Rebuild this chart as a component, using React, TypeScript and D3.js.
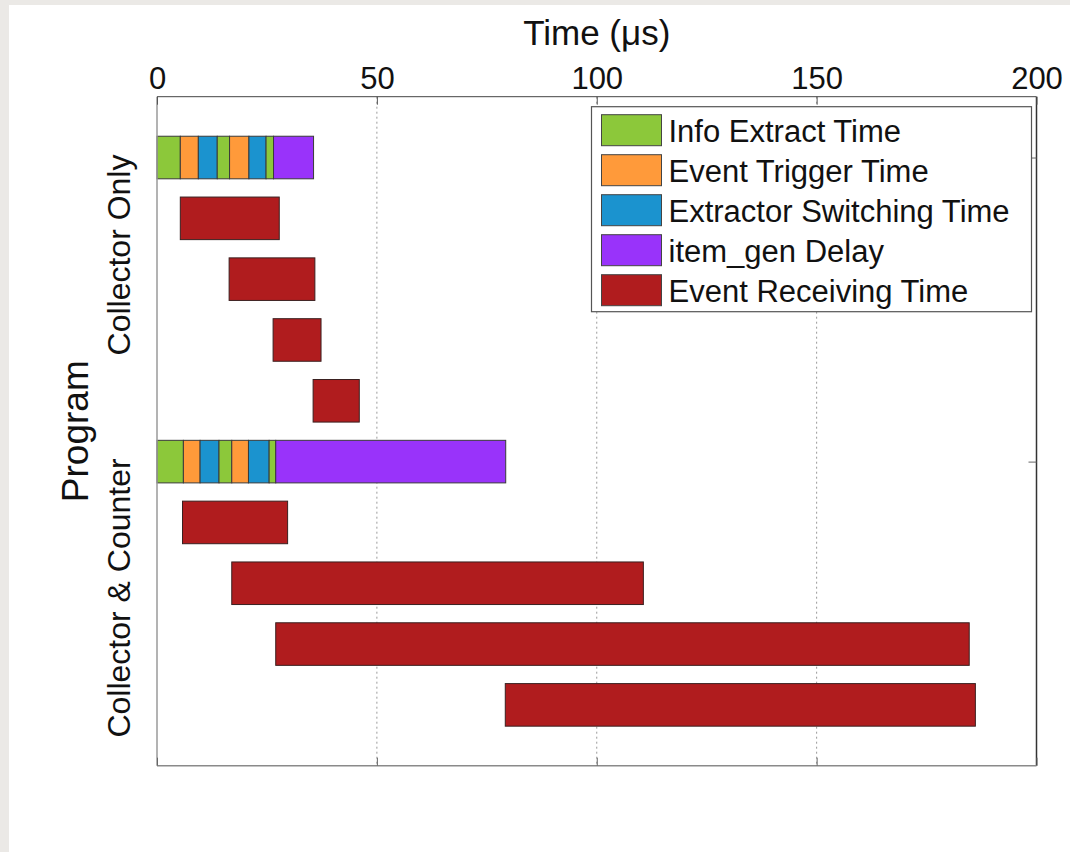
import React, { useEffect, useRef } from "react";
import * as d3 from "d3";

const seriesNames = [
  "Info Extract Time",
  "Event Trigger Time",
  "Extractor Switching Time",
  "item_gen Delay",
  "Event Receiving Time",
];
const seriesColors = ["#8cc83a", "#ff9a3a", "#1b93cf", "#9933fa", "#b01c1e"];
const programs = ["Collector Only", "Collector & Counter"];
// series index of each stacked segment, left to right
const stackOrder = [0, 1, 2, 0, 1, 2, 0, 3];
const collectorOnlySegments = [5.3, 4.1, 4.3, 2.8, 4.4, 3.9, 1.7, 9.1];
const collectorCounterSegments = [6.0, 3.8, 4.3, 2.9, 3.8, 4.7, 1.5, 52.3];
const collectorOnlyReceiving = [
  [5.3, 27.8],
  [16.4, 35.9],
  [26.4, 37.3],
  [35.5, 46.0],
];
const collectorCounterReceiving = [
  [5.8, 29.7],
  [17.0, 110.6],
  [27.0, 184.7],
  [79.2, 186.1],
];
const xTicks = [0, 50, 100, 150, 200];
const programRows = [1, 6];

export default function App() {
  const ref = useRef<SVGSVGElement | null>(null);

  useEffect(() => {
    const svg = d3.select(ref.current);
    svg.selectAll("*").remove();
    const W = 1070, H = 852;
    const left = 157, right = 1036.5, top = 96.7, bottom = 765.7;
    const x = d3.scaleLinear().domain([0, 200]).range([left, right]);
    const y = d3.scaleLinear().domain([0, 11]).range([top, bottom]);
    const barH = y(0.7) - y(0);
    const font = "'Liberation Sans', Arial, sans-serif";

    svg.append("rect").attr("width", W).attr("height", H).attr("fill", "#ebe9e6");
    svg.append("rect").attr("x", 9).attr("y", 5).attr("width", W - 9).attr("height", H - 5).attr("fill", "#ffffff");

    // grid
    svg.append("g")
      .selectAll("line")
      .data(xTicks.slice(1, -1))
      .join("line")
      .attr("x1", (d) => x(d)).attr("x2", (d) => x(d))
      .attr("y1", top).attr("y2", bottom)
      .attr("stroke", "#9a9a9a").attr("stroke-width", 1)
      .attr("stroke-dasharray", "2,3");

    // stacked bars
    const stacks = [collectorOnlySegments, collectorCounterSegments];
    const receiving = [collectorOnlyReceiving, collectorCounterReceiving];
    stacks.forEach((segs, p) => {
      const cum = d3.cumsum(segs);
      const row = programRows[p];
      svg.append("g")
        .selectAll("rect")
        .data(segs.map((v, i) => ({ s: stackOrder[i], x0: cum[i] - v, x1: cum[i] })))
        .join("rect")
        .attr("x", (d) => x(d.x0))
        .attr("width", (d) => x(d.x1) - x(d.x0))
        .attr("y", y(row) - barH / 2)
        .attr("height", barH)
        .attr("fill", (d) => seriesColors[d.s])
        .attr("stroke", "#3a3a3a").attr("stroke-width", 1);
      svg.append("g")
        .selectAll("rect")
        .data(receiving[p])
        .join("rect")
        .attr("x", (d) => x(d[0]))
        .attr("width", (d) => x(d[1]) - x(d[0]))
        .attr("y", (d, i) => y(row + 1 + i) - barH / 2)
        .attr("height", barH)
        .attr("fill", seriesColors[4])
        .attr("stroke", "#3a2020").attr("stroke-width", 1);
    });

    // box
    svg.append("line").attr("x1", left).attr("x2", right).attr("y1", top).attr("y2", top).attr("stroke", "#444");
    svg.append("line").attr("x1", right).attr("x2", right).attr("y1", top).attr("y2", bottom).attr("stroke", "#333").attr("stroke-width", 1.5);
    svg.append("line").attr("x1", left).attr("x2", right).attr("y1", bottom).attr("y2", bottom).attr("stroke", "#8a8a8a").attr("stroke-width", 1.5);
    svg.append("line").attr("x1", left).attr("x2", left).attr("y1", top).attr("y2", bottom).attr("stroke", "#9a9a9a").attr("stroke-width", 1.5);

    // top axis
    const topAxis = d3.axisTop(x).tickValues(xTicks).tickSize(-8).tickPadding(8).tickFormat(d3.format("d"));
    const gTop = svg.append("g").attr("transform", `translate(0,${top})`).call(topAxis);
    gTop.select(".domain").remove();
    gTop.selectAll("line").attr("stroke", "#555");
    gTop.selectAll("text").attr("font-family", font).attr("font-size", 31).attr("fill", "#111");

    // bottom axis ticks
    const botAxis = d3.axisBottom(x).tickValues(xTicks).tickSize(-8).tickFormat(() => "");
    const gBot = svg.append("g").attr("transform", `translate(0,${bottom})`).call(botAxis);
    gBot.select(".domain").remove();
    gBot.selectAll("line").attr("stroke", "#666");

    // right axis ticks
    const rAxis = d3.axisRight(y).tickValues(programRows).tickSize(-8).tickFormat(() => "");
    const gR = svg.append("g").attr("transform", `translate(${right},0)`).call(rAxis);
    gR.select(".domain").remove();
    gR.selectAll("line").attr("stroke", "#666");

    // title
    svg.append("text").attr("x", (left + right) / 2).attr("y", 45)
      .attr("text-anchor", "middle").attr("font-family", font).attr("font-size", 35).attr("fill", "#111")
      .text("Time (μs)");

    // y labels
    const yLabelCenters = [255, 598];
    programs.forEach((name, i) => {
      svg.append("text")
        .attr("transform", `translate(130,${yLabelCenters[i]}) rotate(-90)`)
        .attr("text-anchor", "middle").attr("font-family", font).attr("font-size", 32).attr("fill", "#111")
        .text(name);
    });
    svg.append("text")
      .attr("transform", `translate(88,${(top + bottom) / 2}) rotate(-90)`)
      .attr("text-anchor", "middle").attr("font-family", font).attr("font-size", 37).attr("fill", "#111")
      .text("Program");

    // legend
    const lx = 591.5, ly = 106.7, lw = 440, lh = 205;
    svg.append("rect").attr("x", lx).attr("y", ly).attr("width", lw).attr("height", lh)
      .attr("fill", "#fff").attr("stroke", "#555").attr("stroke-width", 1.2);
    const items = svg.append("g").selectAll("g").data(seriesNames).join("g")
      .attr("transform", (d, i) => `translate(${lx + 10},${ly + 8 + i * 40})`);
    items.append("rect").attr("width", 60).attr("height", 31)
      .attr("fill", (d, i) => seriesColors[i]).attr("stroke", "#444");
    items.append("text").attr("x", 67).attr("y", 27)
      .attr("font-family", font).attr("font-size", 31).attr("fill", "#111")
      .text((d) => d);
  }, []);

  return (
    <div style={{ position: "absolute", left: 0, top: 0 }}>
      <svg ref={ref} width={1070} height={852} style={{ display: "block" }} />
    </div>
  );
}
